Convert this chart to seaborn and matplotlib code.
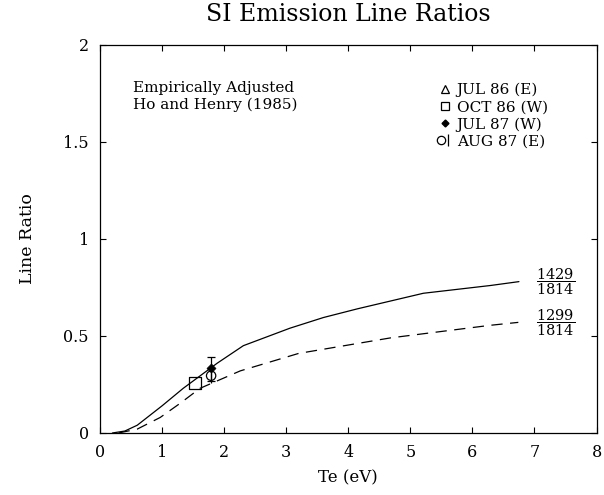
import numpy as np
import pandas as pd
import matplotlib
matplotlib.use("Agg")
import matplotlib.pyplot as plt
import seaborn as sns
from matplotlib.lines import Line2D
from matplotlib.legend_handler import HandlerTuple

# ---- data ----
solid_te = [0.2, 0.4, 0.6, 0.8, 1.0, 1.34, 1.89, 2.31, 3.06, 3.6, 4.15, 5.21, 6.29, 6.75]
solid_ratio = [0.0, 0.01, 0.04, 0.09, 0.14, 0.23, 0.36, 0.45, 0.54, 0.595, 0.64, 0.72, 0.76, 0.78]
dashed_te = [0.3, 0.6, 0.97, 1.3, 1.61, 2.26, 3.2, 4.68, 6.29, 6.74]
dashed_ratio = [0.0, 0.02, 0.08, 0.155, 0.23, 0.32, 0.41, 0.49, 0.555, 0.57]

oct86_te, oct86_ratio = [1.53], [0.256]
jul87_te, jul87_ratio = [1.79], [0.337]
jul87_err_lo, jul87_err_hi = [0.27], [0.39]
aug87_te, aug87_ratio = [1.79], [0.295]

legend_labels = ["JUL 86 (E)", "OCT 86 (W)", "JUL 87 (W)", "AUG 87 (E)"]
x_ticks = [0, 1, 2, 3, 4, 5, 6, 7, 8]
y_ticks = [0, 0.5, 1, 1.5, 2]
y_tick_labels = ["0", "0.5", "1", "1.5", "2"]

sns.set_theme(style="ticks")
plt.rcParams["font.family"] = ["DejaVu Serif"]
plt.rcParams["mathtext.fontset"] = "dejavuserif"
plt.rcParams["text.color"] = "black"
plt.rcParams["axes.labelcolor"] = "black"
plt.rcParams["xtick.color"] = "black"
plt.rcParams["ytick.color"] = "black"

fig = plt.figure(figsize=(6.04, 4.95), dpi=100)
ax = fig.add_axes([0.1656, 0.1253, 0.822, 0.784])

df_s = pd.DataFrame({"Te": solid_te, "ratio": solid_ratio})
df_d = pd.DataFrame({"Te": dashed_te, "ratio": dashed_ratio})
sns.lineplot(data=df_s, x="Te", y="ratio", ax=ax, color="black", lw=0.9, sort=False)
sns.lineplot(data=df_d, x="Te", y="ratio", ax=ax, color="black", lw=0.9, sort=False,
             dashes=False, linestyle=(0, (9, 6)))

# data points
sns.scatterplot(x=oct86_te, y=oct86_ratio, ax=ax, marker="s", s=70,
                facecolor="none", edgecolor="black", linewidth=0.9, zorder=5)
ax.errorbar(jul87_te, jul87_ratio,
            yerr=[[jul87_ratio[0] - jul87_err_lo[0]], [jul87_err_hi[0] - jul87_ratio[0]]],
            fmt="none", ecolor="black", elinewidth=0.9, capsize=3, capthick=0.9, zorder=5)
sns.scatterplot(x=jul87_te, y=jul87_ratio, ax=ax, marker="D", s=22,
                color="black", edgecolor="black", zorder=6)
sns.scatterplot(x=aug87_te, y=aug87_ratio, ax=ax, marker="o", s=45,
                facecolor="none", edgecolor="black", linewidth=0.9, zorder=6)
sns.scatterplot(x=aug87_te, y=aug87_ratio, ax=ax, marker="|", s=110,
                color="black", linewidth=0.9, zorder=6)

ax.set_xlim(0, 8)
ax.set_ylim(0, 2)
ax.set_xticks(x_ticks)
ax.set_yticks(y_ticks)
ax.set_yticklabels(y_tick_labels)
ax.tick_params(direction="in", length=4, width=0.8, top=True, right=True,
               labelsize=11.5, colors="black")
ax.tick_params(axis="y", pad=8)
ax.tick_params(axis="x", pad=8)
for sp in ax.spines.values():
    sp.set_linewidth(0.9)
    sp.set_color("black")

ax.set_xlabel("Te (eV)", fontsize=12, labelpad=6)
ax.set_ylabel("Line Ratio", fontsize=12.5, labelpad=20)
ax.set_title("SI Emission Line Ratios", fontsize=17, pad=17, color="black")

ax.text(0.066, 0.889, "Empirically Adjusted", transform=ax.transAxes,
        fontsize=11, va="center", ha="left")
ax.text(0.066, 0.845, "Ho and Henry (1985)", transform=ax.transAxes,
        fontsize=11, va="center", ha="left")

ax.text(solid_te[-1] + 0.28, solid_ratio[-1], r"$\dfrac{\mathrm{1429}}{\mathrm{1814}}$",
        fontsize=10.5, va="center", ha="left")
ax.text(dashed_te[-1] + 0.28, dashed_ratio[-1], r"$\dfrac{\mathrm{1299}}{\mathrm{1814}}$",
        fontsize=10.5, va="center", ha="left")

h_tri = Line2D([], [], marker="^", ls="none", mfc="none", mec="black", ms=6, mew=0.9)
h_sq = Line2D([], [], marker="s", ls="none", mfc="none", mec="black", ms=6, mew=0.9)
h_dia = Line2D([], [], marker="D", ls="none", mfc="black", mec="black", ms=3.5)
h_circ = Line2D([], [], marker="o", ls="none", mfc="none", mec="black", ms=6, mew=0.9)
h_bar = Line2D([], [], marker="|", ls="none", mec="black", ms=9, mew=0.9)
leg = ax.legend([h_tri, h_sq, h_dia, (h_circ, h_bar)], legend_labels,
                handler_map={tuple: HandlerTuple(ndivide=None)},
                loc="upper left", bbox_to_anchor=(0.66, 0.93), frameon=False,
                fontsize=11, handlelength=0.8, handletextpad=0.4,
                labelspacing=0.2, borderpad=0.2)

fig.savefig("out.png", dpi=100)
